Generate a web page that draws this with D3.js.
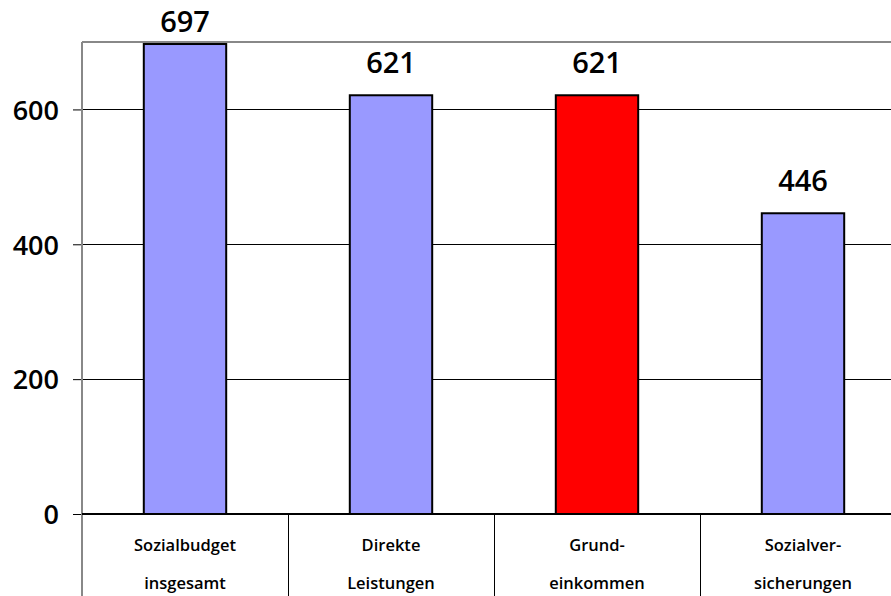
<!DOCTYPE html>
<html><head><meta charset="utf-8">
<script src="https://cdn.jsdelivr.net/npm/d3@7"></script>
<style>body{margin:0;background:#fff;}svg{display:block;font-family:"Open Sans",sans-serif;}</style>
</head><body><svg id="c" width="891" height="596"></svg>
<script>
const categories = [["Sozialbudget","insgesamt"],["Direkte","Leistungen"],["Grund-","einkommen"],["Sozialver-","sicherungen"]];
const values = [697, 621, 621, 446];
const colors = ["#9999ff","#9999ff","#ff0000","#9999ff"];
const yTicks = [0, 200, 400, 600];

(function(){
const svg = d3.select("#c");
const mLeft = 82, mRight = 906, mTop = 42, mBottom = 514;
const x = d3.scaleBand().domain(d3.range(categories.length)).range([mLeft, mRight]).paddingInner(0).paddingOuter(0);
const y = d3.scaleLinear().domain([0, 700]).range([mBottom, mTop]);
const bw = x.bandwidth() * 0.4;

svg.append("g").selectAll("line").data(yTicks.filter(d=>d>0)).join("line")
  .attr("x1", mLeft).attr("x2", 891).attr("y1", d=>y(d)).attr("y2", d=>y(d))
  .attr("stroke", "#000").attr("stroke-width", 1).attr("shape-rendering","crispEdges");
svg.append("line").attr("x1", mLeft).attr("x2", 891).attr("y1", mTop).attr("y2", mTop)
  .attr("stroke", "#888").attr("stroke-width", 2).attr("shape-rendering","crispEdges");

const ya = svg.append("g").attr("transform", `translate(${mLeft},0)`)
  .call(d3.axisLeft(y).tickValues(yTicks).tickSize(9).tickPadding(14));
ya.select(".domain").remove();
ya.selectAll(".tick line").attr("stroke","#000");
ya.selectAll(".tick text").attr("font-size", 27).attr("font-weight", 600).attr("fill","#000")
  .attr("font-family","Open Sans").attr("dy","0.36em");
svg.append("line").attr("x1", mLeft).attr("x2", mLeft).attr("y1", mTop).attr("y2", 596)
  .attr("stroke", "#888").attr("stroke-width", 1.5).attr("shape-rendering","crispEdges");

svg.append("g").selectAll("rect").data(values).join("rect")
  .attr("x", (d,i)=>x(i) + (x.bandwidth()-bw)/2).attr("width", bw)
  .attr("y", d=>y(d)).attr("height", d=>y(0)-y(d))
  .attr("fill", (d,i)=>colors[i]).attr("stroke","#000").attr("stroke-width", 2);

svg.append("g").selectAll("text").data(values).join("text")
  .attr("x", (d,i)=>x(i)+x.bandwidth()/2).attr("y", d=>Math.max(32, y(d)-22))
  .attr("text-anchor","middle").attr("font-size", 29).attr("font-weight", 600).attr("fill","#000").text(d=>d);

svg.append("line").attr("x1", mLeft).attr("x2", 891).attr("y1", mBottom).attr("y2", mBottom)
  .attr("stroke", "#000").attr("stroke-width", 1.5).attr("shape-rendering","crispEdges");
svg.append("g").selectAll("line").data(d3.range(1, categories.length)).join("line")
  .attr("x1", i=>x(i)).attr("x2", i=>x(i)).attr("y1", mBottom).attr("y2", 596)
  .attr("stroke","#000").attr("stroke-width",1).attr("shape-rendering","crispEdges");
const cl = svg.append("g").selectAll("text").data(categories).join("text")
  .attr("text-anchor","middle").attr("font-size", 16.5).attr("font-weight", 600).attr("fill","#000");
cl.append("tspan").attr("x", (d,i)=>x(i)+x.bandwidth()/2).attr("y", 551).text(d=>d[0]);
cl.append("tspan").attr("x", (d,i)=>x(i)+x.bandwidth()/2).attr("y", 589).text(d=>d[1]);
})();
</script></body></html>
